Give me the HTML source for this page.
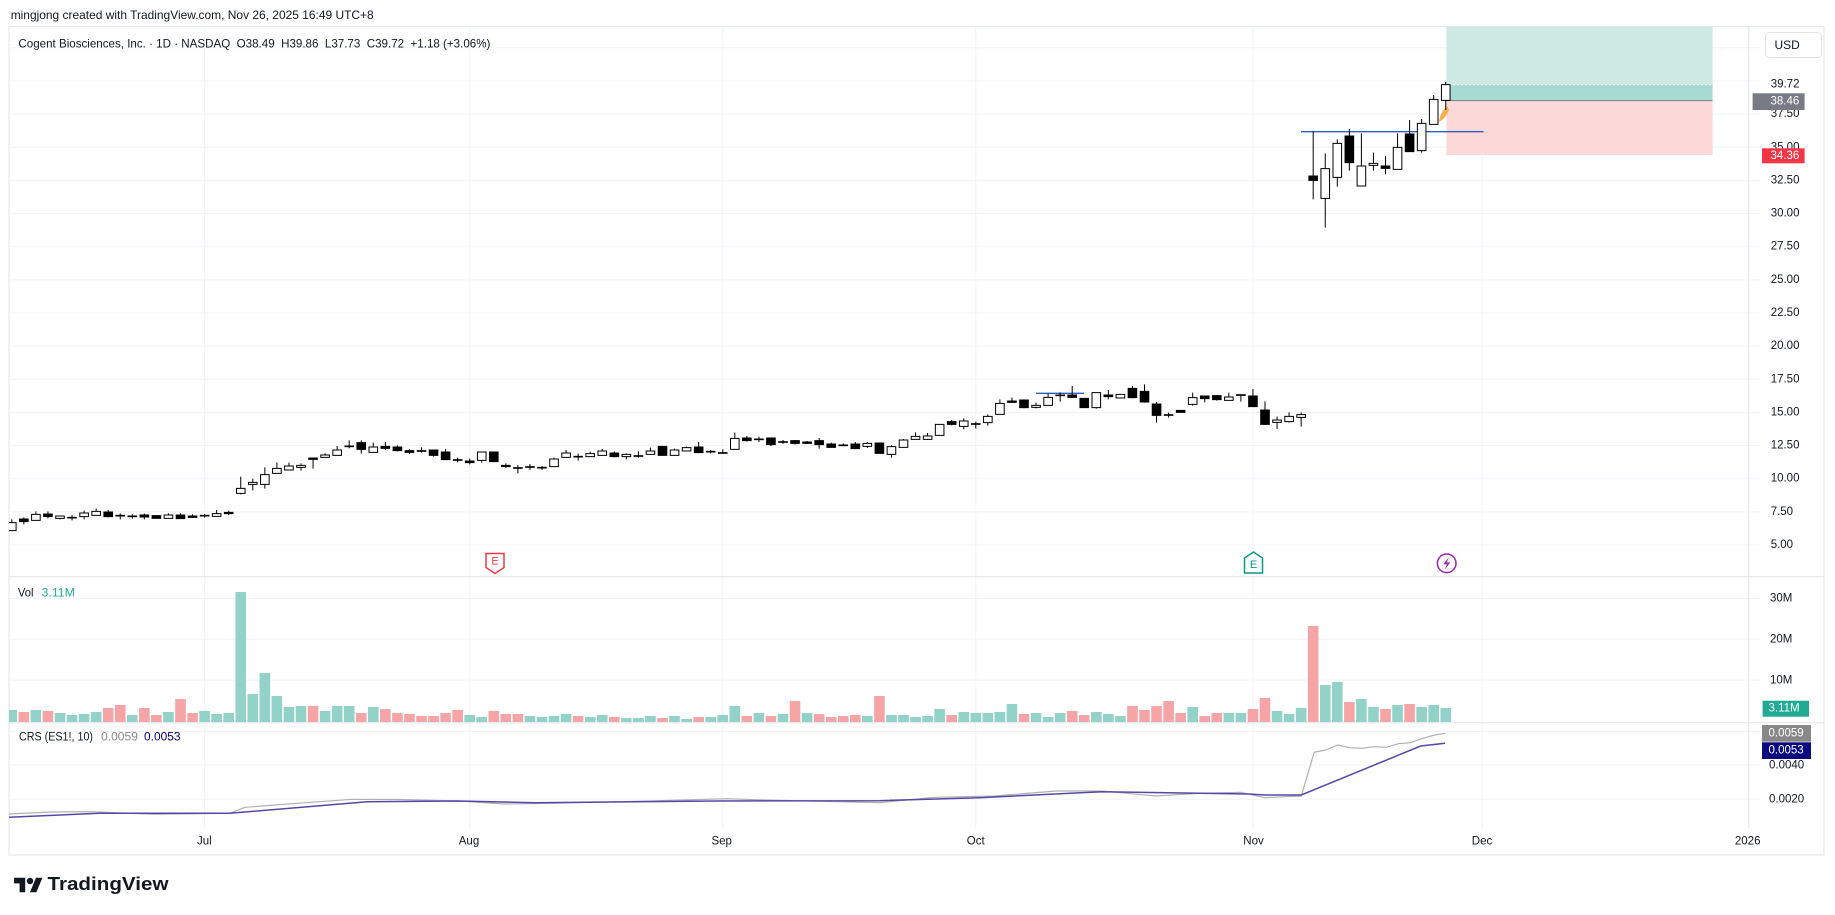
<!DOCTYPE html>
<html><head><meta charset="utf-8">
<style>
html,body{margin:0;padding:0;background:#fff;width:1835px;height:915px;overflow:hidden}
svg{display:block}
text{font-family:"Liberation Sans",sans-serif;fill:#131722}
.ns{vector-effect:non-scaling-stroke}
</style></head>
<body>
<svg width="1835" height="915" viewBox="0 0 1835 915" xmlns="http://www.w3.org/2000/svg">
<defs>
<clipPath id="cm"><rect x="9" y="27" width="1740" height="550"/></clipPath>
<clipPath id="cv"><rect x="9" y="577" width="1740" height="146"/></clipPath>
<clipPath id="cc"><rect x="9" y="723" width="1740" height="105"/></clipPath>
</defs>

<!-- header -->
<text x="10.7" y="15" dominant-baseline="central" font-size="12" textLength="363" lengthAdjust="spacingAndGlyphs">mingjong created with TradingView.com, Nov 26, 2025 16:49 UTC+8</text>

<!-- frame -->
<rect x="9" y="26.7" width="1815" height="828.3" fill="#fff" stroke="#e0e3eb" stroke-width="1"/>

<!-- grid -->
<g stroke="#f0f3fa" stroke-width="1" fill="none">
<path d="M9 47.8H1760M9 81H1760M9 114.1H1760M9 147.3H1760M9 180.4H1760M9 213.6H1760M9 246.7H1760M9 279.9H1760M9 313H1760M9 346.1H1760M9 379.3H1760M9 412.4H1760M9 445.6H1760M9 478.7H1760M9 511.9H1760M9 545H1760"/>
<path d="M9 598.5H1760M9 639.3H1760M9 680.1H1760"/>
<path d="M9 731.5H1760M9 765H1760M9 799.3H1760"/>
<path d="M204.6 27V828M469.7 27V828M722.8 27V828M975.8 27V828M1253 27V828M1482 27V828"/>
</g>
<!-- axis border & pane separators -->
<g stroke="#e0e3eb" stroke-width="1">
<path d="M1748.8 27V828"/>
<path d="M9 576.7H1824M9 722.7H1824"/>
</g>

<!-- legend -->
<text x="18.4" y="43.3" dominant-baseline="central" font-size="12" textLength="472" lengthAdjust="spacingAndGlyphs" style="white-space:pre">Cogent Biosciences, Inc. · 1D · NASDAQ  O38.49  H39.86  L37.73  C39.72  +1.18 (+3.06%)</text>

<g clip-path="url(#cm)">
<!-- position tool -->
<rect x="1446.4" y="27" width="266.2" height="57.7" fill="#cfeae5"/>
<rect x="1446.4" y="84.7" width="266.2" height="15.9" fill="#a7dbd2"/>
<rect x="1446.4" y="100.6" width="266.2" height="54.5" fill="#fcd9d8"/>
<line x1="1446.4" y1="100.6" x2="1712.6" y2="100.6" stroke="#787b86" stroke-width="1"/>
<line x1="1449" y1="84.7" x2="1712.6" y2="84.7" stroke="#fff" stroke-width="1" stroke-dasharray="2 2"/>
<!-- blue lines -->
<line x1="1301" y1="131.7" x2="1483.5" y2="131.7" stroke="#2f5fbf" stroke-width="1.3"/>
<line x1="1036" y1="393.3" x2="1084" y2="393.3" stroke="#2f5fbf" stroke-width="1.3"/>
<!-- orange marker -->
<path d="M1447.5 106 Q1440 112 1439 122 Q1446 118 1449 110 Z" fill="#f6b04a"/>

<!-- candles group A -->
<g transform="translate(204.6,380) scale(12.05,0.333333)">
<path class="ns" stroke="#000" stroke-width="1" fill="none" d="M-16 418V452M-15 412V433M-14 394V421M-13 394V415M-12 408V418M-11 405V421M-10 392V418M-9 385V406M-8 390V412M-7 400V418M-6 403V416M-5 401V418M-4 407V415M-3 400V415M-2 400V416M-1 403V414M0 402V413M1 390V409M2 392V405M3 290V343M4 296V331M5 262V326M6 247V280M7 248V270M8 250V272M9 234V266M10 220V232M11 198V226M12 181V205M13 181V221M14 188V217M15 186V210M16 196V214M17 208V222M18 202V218M19 210V230M20 207V240M21 233V247M22 236V253M23 216V248M24 216V245M25 250V264M26 255V280M27 252V270M28 258V270M29 233V260M30 210V232M31 221V242M32 215V230M33 207V226M34 214V232"/>
<g fill="#fff" stroke="#000" stroke-width="1">
<rect class="ns" x="-16.357" y="428" width=".714" height="24"/>
<rect class="ns" x="-14.357" y="403" width=".714" height="18"/>
<rect class="ns" x="-12.357" y="408" width=".714" height="7"/>
<rect class="ns" x="-10.357" y="399" width=".714" height="11"/>
<rect class="ns" x="-9.357" y="394" width=".714" height="12"/>
<rect class="ns" x="-3.357" y="405" width=".714" height="10"/>
<rect class="ns" x=".643" y="401" width=".714" height="8"/>
<rect class="ns" x="2.643" y="325" width=".714" height="15"/>
<rect class="ns" x="3.643" y="307" width=".714" height="6"/>
<rect class="ns" x="4.643" y="284" width=".714" height="29"/>
<rect class="ns" x="5.643" y="265" width=".714" height="15"/>
<rect class="ns" x="6.643" y="258" width=".714" height="12"/>
<rect class="ns" x="7.643" y="256" width=".714" height="6"/>
<rect class="ns" x="9.643" y="225" width=".714" height="7"/>
<rect class="ns" x="10.643" y="210" width=".714" height="16"/>
<rect class="ns" x="13.643" y="201" width=".714" height="16"/>
<rect class="ns" x="22.643" y="216" width=".714" height="25"/>
<rect class="ns" x="28.643" y="237" width=".714" height="23"/>
<rect class="ns" x="29.643" y="219" width=".714" height="13"/>
<rect class="ns" x="31.643" y="221" width=".714" height="9"/>
<rect class="ns" x="32.643" y="213" width=".714" height="13"/>
</g>
<g fill="#000" stroke="#000" stroke-width="1">
<rect class="ns" x="-15.357" y="417" width=".714" height="8"/>
<rect class="ns" x="-13.357" y="402" width=".714" height="8"/>
<rect class="ns" x="-8.357" y="396" width=".714" height="14"/>
<rect class="ns" x="-5.357" y="405" width=".714" height="6"/>
<rect class="ns" x="-4.357" y="407" width=".714" height="8"/>
<rect class="ns" x="-2.357" y="405" width=".714" height="11"/>
<rect class="ns" x="-1.357" y="408" width=".714" height="4"/>
<rect class="ns" x="1.643" y="397" width=".714" height="4"/>
<rect class="ns" x="8.643" y="234" width=".714" height="4"/>
<rect class="ns" x="12.643" y="188" width=".714" height="20"/>
<rect class="ns" x="14.643" y="199" width=".714" height="6"/>
<rect class="ns" x="15.643" y="201" width=".714" height="11"/>
<rect class="ns" x="16.643" y="212" width=".714" height="5"/>
<rect class="ns" x="18.643" y="210" width=".714" height="16"/>
<rect class="ns" x="19.643" y="216" width=".714" height="23"/>
<rect class="ns" x="21.643" y="243" width=".714" height="5"/>
<rect class="ns" x="23.643" y="216" width=".714" height="29"/>
<rect class="ns" x="24.643" y="256" width=".714" height="4"/>
<rect class="ns" x="33.643" y="219" width=".714" height="11"/>
<rect class="ns" x="-11.357" y="412" width=".714" height="2"/>
<rect class="ns" x="-7.357" y="406" width=".714" height="2"/>
<rect class="ns" x="-6.357" y="408" width=".714" height="2"/>
<rect class="ns" x="-.357" y="406" width=".714" height="2"/>
<rect class="ns" x="11.643" y="198" width=".714" height="2"/>
<rect class="ns" x="17.643" y="212" width=".714" height="2"/>
<rect class="ns" x="20.643" y="239" width=".714" height="2"/>
<rect class="ns" x="25.643" y="263" width=".714" height="2"/>
<rect class="ns" x="26.643" y="260" width=".714" height="2"/>
<rect class="ns" x="27.643" y="262" width=".714" height="2"/>
<rect class="ns" x="30.643" y="229" width=".714" height="2"/>
</g>
</g>

<!-- candles group B -->
<g transform="translate(204.6,370) scale(12.05,0.333333)">
<path class="ns" stroke="#000" stroke-width="1" fill="none" d="M35 250V268M36 244V263M37 233V253M38 229V256M39 236V256M40 230V243M41 216V248M42 240V250M43 238V250M44 188V238M45 198V215M46 200V216M47 204V228M48 210V222M49 210V224M50 213V222M51 204V236M52 218V233M53 220V228M54 216V237M55 216V234M56 219V250M57 226V263M58 207V232M59 187V208M60 189V210M61 163V196M62 150V166M63 145V178M64 155V176M65 133V167M66 88V133M67 83V99M68 88V115M69 98V115M70 70V106M71 67V95M72 48V84M73 85V113M74 68V116M75 60V88M76 73V84M77 48V85M78 43V98M79 96V158M80 128V143M81 120V128M82 68V107M83 78V97M84 75V92M85 68V91M86 74V95M87 57V110M88 94V165M89 140V177M90 127V158M91 127V170"/>
<g fill="#fff" stroke="#000" stroke-width="1">
<rect class="ns" x="34.643" y="253" width=".714" height="7"/>
<rect class="ns" x="36.643" y="243" width=".714" height="10"/>
<rect class="ns" x="38.643" y="240" width=".714" height="16"/>
<rect class="ns" x="39.643" y="233" width=".714" height="10"/>
<rect class="ns" x="43.643" y="205" width=".714" height="33"/>
<rect class="ns" x="54.643" y="220" width=".714" height="9"/>
<rect class="ns" x="56.643" y="230" width=".714" height="23"/>
<rect class="ns" x="57.643" y="210" width=".714" height="22"/>
<rect class="ns" x="58.643" y="199" width=".714" height="9"/>
<rect class="ns" x="59.643" y="198" width=".714" height="10"/>
<rect class="ns" x="60.643" y="163" width=".714" height="33"/>
<rect class="ns" x="62.643" y="153" width=".714" height="16"/>
<rect class="ns" x="64.643" y="139" width=".714" height="19"/>
<rect class="ns" x="65.643" y="100" width=".714" height="33"/>
<rect class="ns" x="68.643" y="106" width=".714" height="6"/>
<rect class="ns" x="69.643" y="82" width=".714" height="24"/>
<rect class="ns" x="73.643" y="68" width=".714" height="45"/>
<rect class="ns" x="75.643" y="73" width=".714" height="11"/>
<rect class="ns" x="81.643" y="83" width=".714" height="20"/>
<rect class="ns" x="84.643" y="81" width=".714" height="10"/>
<rect class="ns" x="88.643" y="150" width=".714" height="7"/>
<rect class="ns" x="89.643" y="139" width=".714" height="16"/>
<rect class="ns" x="90.643" y="134" width=".714" height="8"/>
</g>
<g fill="#000" stroke="#000" stroke-width="1">
<rect class="ns" x="37.643" y="229" width=".714" height="27"/>
<rect class="ns" x="40.643" y="231" width=".714" height="17"/>
<rect class="ns" x="44.643" y="204" width=".714" height="8"/>
<rect class="ns" x="46.643" y="204" width=".714" height="20"/>
<rect class="ns" x="48.643" y="212" width=".714" height="8"/>
<rect class="ns" x="49.643" y="216" width=".714" height="4"/>
<rect class="ns" x="50.643" y="212" width=".714" height="12"/>
<rect class="ns" x="51.643" y="222" width=".714" height="10"/>
<rect class="ns" x="53.643" y="222" width=".714" height="14"/>
<rect class="ns" x="55.643" y="219" width=".714" height="31"/>
<rect class="ns" x="61.643" y="155" width=".714" height="8"/>
<rect class="ns" x="66.643" y="93" width=".714" height="4"/>
<rect class="ns" x="67.643" y="90" width=".714" height="23"/>
<rect class="ns" x="71.643" y="75" width=".714" height="7"/>
<rect class="ns" x="72.643" y="85" width=".714" height="28"/>
<rect class="ns" x="74.643" y="75" width=".714" height="5"/>
<rect class="ns" x="76.643" y="55" width=".714" height="28"/>
<rect class="ns" x="77.643" y="64" width=".714" height="32"/>
<rect class="ns" x="78.643" y="102" width=".714" height="34"/>
<rect class="ns" x="80.643" y="121" width=".714" height="6"/>
<rect class="ns" x="82.643" y="78" width=".714" height="8"/>
<rect class="ns" x="83.643" y="77" width=".714" height="12"/>
<rect class="ns" x="86.643" y="78" width=".714" height="32"/>
<rect class="ns" x="87.643" y="120" width=".714" height="43"/>
<rect class="ns" x="35.643" y="257" width=".714" height="2"/>
<rect class="ns" x="41.643" y="244" width=".714" height="2"/>
<rect class="ns" x="42.643" y="248" width=".714" height="2"/>
<rect class="ns" x="45.643" y="207" width=".714" height="2"/>
<rect class="ns" x="47.643" y="215" width=".714" height="2"/>
<rect class="ns" x="52.643" y="225" width=".714" height="2"/>
<rect class="ns" x="63.643" y="161" width=".714" height="2"/>
<rect class="ns" x="70.643" y="75" width=".714" height="2"/>
<rect class="ns" x="79.643" y="134" width=".714" height="2"/>
<rect class="ns" x="85.643" y="74" width=".714" height="2"/>
</g>
</g>

<!-- candles group C -->
<g transform="translate(204.6,0) scale(12.05,0.333333)">
<path class="ns" stroke="#000" stroke-width="1" fill="none" d="M92 395V598M93 460V683M94 418V560M95 387V512M96 400V558M97 458V512M98 468V523M99 400V508M100 360V455M101 357V458M102 285V373M103 246V330"/>
<g fill="#fff" stroke="#000" stroke-width="1">
<rect class="ns" x="92.643" y="506" width=".714" height="89"/>
<rect class="ns" x="93.643" y="430" width=".714" height="102"/>
<rect class="ns" x="95.643" y="498" width=".714" height="60"/>
<rect class="ns" x="96.643" y="490" width=".714" height="6"/>
<rect class="ns" x="98.643" y="442" width=".714" height="66"/>
<rect class="ns" x="100.643" y="370" width=".714" height="82"/>
<rect class="ns" x="101.643" y="298" width=".714" height="75"/>
<rect class="ns" x="102.643" y="254" width=".714" height="47"/>
</g>
<g fill="#000" stroke="#000" stroke-width="1">
<rect class="ns" x="91.643" y="528" width=".714" height="13"/>
<rect class="ns" x="94.643" y="408" width=".714" height="80"/>
<rect class="ns" x="97.643" y="498" width=".714" height="7"/>
<rect class="ns" x="99.643" y="402" width=".714" height="53"/>
</g>
</g>

<!-- event markers -->
<path d="M486 553.5H504V567.5L495 573.5L486 567.5Z" fill="#fff" stroke="#f23645" stroke-width="1.5"/>
<text x="495" y="561.5" dominant-baseline="central" text-anchor="middle" font-size="11" style="fill:#f23645">E</text>
<path d="M1244.5 573V558L1253.5 552L1262.5 558V573Z" fill="#fff" stroke="#089981" stroke-width="1.5"/>
<text x="1253.5" y="565" dominant-baseline="central" text-anchor="middle" font-size="11" style="fill:#089981">E</text>
<circle cx="1446.7" cy="563.3" r="9.3" fill="#fff" stroke="#9c27b0" stroke-width="1.5"/>
<path d="M1448.8 557.2L1443.3 564.2H1446.8L1444.8 569.6L1450.3 562.4H1446.8Z" fill="#9c27b0"/>
</g>

<!-- volume -->
<text x="17.9" y="592.3" dominant-baseline="central" font-size="12" textLength="15.6" lengthAdjust="spacingAndGlyphs">Vol</text>
<text x="41.5" y="592.3" dominant-baseline="central" font-size="12" textLength="33.5" lengthAdjust="spacingAndGlyphs" style="fill:#22ab94">3.11M</text>
<g clip-path="url(#cv)">
<g transform="translate(204.6,570) scale(12.05,0.333333)" fill="none">
<path class="ns" stroke="#93d2c9" stroke-width="10.6" d="M-16 420V456M-14 420V456M-12 429V456M-11 435V456M-10 432V456M-9 426V456M-6 435V456M-3 426V456M0 423V456M1 432V456M2 429V456M3 66V456M4 372V456M5 309V456M6 378V456M7 411V456M8 408V456M10 423V456M11 408V456M12 408V456M14 411V456M22 435V456M23 441V456M27 438V456M28 441V456M29 438V456M30 432V456M32 441V456M33 435V456M35 444V456M36 444V456M37 438V456M39 438V456M40 447V456M42 441V456M43 435V456M44 408V456M46 429V456M48 432V456M50 429V456M55 438V456M57 435V456M58 435V456M59 441V456M60 438V456M61 417V456M63 426V456M64 429V456M65 429V456M66 426V456M67 402V456M69 429V456M70 441V456M71 429V456M74 426V456M75 432V456M76 438V456M82 411V456M85 429V456M86 429V456M89 423V456M90 432V456M91 414V456M93 345V456M94 336V456M96 387V456M97 411V456M99 405V456M101 411V456M102 405V456M103 414V456"/>
<path class="ns" stroke="#f6a5a6" stroke-width="10.6" d="M-15 426V456M-13 423V456M-8 414V456M-7 405V456M-5 414V456M-4 435V456M-2 387V456M-1 429V456M9 408V456M13 429V456M15 417V456M16 429V456M17 432V456M18 438V456M19 438V456M20 429V456M21 420V456M24 423V456M25 432V456M26 432V456M31 438V456M34 441V456M38 444V456M41 441V456M45 438V456M47 438V456M49 393V456M51 432V456M52 441V456M53 438V456M54 435V456M56 378V456M62 435V456M68 432V456M72 423V456M73 435V456M77 408V456M78 420V456M79 408V456M80 393V456M81 429V456M83 438V456M84 429V456M87 417V456M88 384V456M92 168V456M95 396V456M98 417V456M100 402V456"/>
</g>
</g>

<!-- CRS -->
<text x="19" y="737.5" dominant-baseline="central" font-size="11.5" textLength="74" lengthAdjust="spacingAndGlyphs">CRS (ES1!, 10)</text>
<text x="101" y="737.5" dominant-baseline="central" font-size="11.5" textLength="37" lengthAdjust="spacingAndGlyphs" style="fill:#888">0.0059</text>
<text x="144" y="737.5" dominant-baseline="central" font-size="11.5" textLength="36.6" lengthAdjust="spacingAndGlyphs" style="fill:#000080">0.0053</text>
<g clip-path="url(#cc)" fill="none">
<polyline stroke="#b0b0b4" stroke-width="1.2" points="9,814 50,812 92,811.7 153,814.3 229.6,813.3 244.9,807.3 306,802.7 352,799.3 400,799.5 459,801 505,804 551,803.3 650,801 727,798.7 765,800 880,802.7 933.7,797.3 994.9,796 1056,791 1102,791 1155.6,796 1200,793.3 1240.5,792.3 1264.8,797.7 1301.3,796 1314.2,752.3 1325.6,750 1337.7,745 1349.9,747.7 1362,748.3 1374,746.7 1386.3,747.3 1398.5,743.7 1410.6,742.7 1422.8,738.3 1434.9,735 1445,733.3"/>
<polyline stroke="#5548a6" stroke-width="1.5" points="9,817.3 99.5,813.3 229.6,813.3 367.3,801.7 459,801 535.7,802.7 719.4,801 880,800.7 979.6,797.7 1102,791.7 1200,793.3 1248.6,794 1264.8,795 1301.3,795 1420.7,746 1445,743.3"/>
</g>

<!-- price axis -->
<rect x="1765.5" y="32.5" width="56" height="25" rx="4" fill="#fff" stroke="#e0e3eb"/>
<text x="1774.5" y="45" dominant-baseline="central" font-size="12">USD</text>
<g font-size="11.5">
<text x="1770.7" y="545" dominant-baseline="central">5.00</text>
<text x="1770.7" y="511.9" dominant-baseline="central">7.50</text>
<text x="1770.7" y="478.7" dominant-baseline="central">10.00</text>
<text x="1770.7" y="445.6" dominant-baseline="central">12.50</text>
<text x="1770.7" y="412.4" dominant-baseline="central">15.00</text>
<text x="1770.7" y="379.3" dominant-baseline="central">17.50</text>
<text x="1770.7" y="346.1" dominant-baseline="central">20.00</text>
<text x="1770.7" y="313" dominant-baseline="central">22.50</text>
<text x="1770.7" y="279.9" dominant-baseline="central">25.00</text>
<text x="1770.7" y="246.7" dominant-baseline="central">27.50</text>
<text x="1770.7" y="213.6" dominant-baseline="central">30.00</text>
<text x="1770.7" y="180.4" dominant-baseline="central">32.50</text>
<text x="1770.7" y="147.3" dominant-baseline="central">35.00</text>
<text x="1770.7" y="114.1" dominant-baseline="central">37.50</text>
<text x="1770.7" y="84.7" dominant-baseline="central">39.72</text>
</g>
<rect x="1752.6" y="93.3" width="52" height="16.7" fill="#787b86"/>
<text x="1770.5" y="101.7" dominant-baseline="central" font-size="11.5" style="fill:#fff">38.46</text>
<rect x="1762" y="148.3" width="42.6" height="15" fill="#f23645"/>
<text x="1770.5" y="155.8" dominant-baseline="central" font-size="11.5" style="fill:#fff">34.36</text>

<!-- volume axis -->
<g font-size="11.5">
<text x="1770" y="598.5" dominant-baseline="central">30M</text>
<text x="1770" y="639.5" dominant-baseline="central">20M</text>
<text x="1770" y="680.5" dominant-baseline="central">10M</text>
</g>
<rect x="1762.6" y="700.7" width="46.4" height="16" fill="#22ab94"/>
<text x="1768.5" y="708.7" dominant-baseline="central" font-size="11.5" style="fill:#fff">3.11M</text>

<!-- CRS axis -->
<rect x="1762" y="725" width="49" height="16.7" fill="#888888"/>
<text x="1768.5" y="733.4" dominant-baseline="central" font-size="11.5" style="fill:#fff">0.0059</text>
<rect x="1762" y="742.3" width="49" height="16.7" fill="#0a0a80"/>
<text x="1768.5" y="750.7" dominant-baseline="central" font-size="11.5" style="fill:#fff">0.0053</text>
<g font-size="11.5">
<text x="1769" y="765.5" dominant-baseline="central">0.0040</text>
<text x="1769" y="799.5" dominant-baseline="central">0.0020</text>
</g>

<!-- time axis -->
<g font-size="11.5" text-anchor="middle">
<text x="204.3" y="841.3" dominant-baseline="central">Jul</text>
<text x="469" y="841.3" dominant-baseline="central">Aug</text>
<text x="721.7" y="841.3" dominant-baseline="central">Sep</text>
<text x="975.7" y="841.3" dominant-baseline="central">Oct</text>
<text x="1253.5" y="841.3" dominant-baseline="central">Nov</text>
<text x="1482" y="841.3" dominant-baseline="central">Dec</text>
<text x="1747.7" y="841.3" dominant-baseline="central">2026</text>
</g>

<!-- logo -->
<g transform="translate(14,874.6) scale(0.8)" fill="#131722">
<path d="M14 22H7V11H0V4h14v18zM28 22h-8l7.5-18h8L28 22z"/>
<circle cx="20" cy="8" r="4"/>
</g>
<text x="47.5" y="890" font-size="18" font-weight="bold" textLength="121" lengthAdjust="spacingAndGlyphs">TradingView</text>
</svg>
</body></html>
